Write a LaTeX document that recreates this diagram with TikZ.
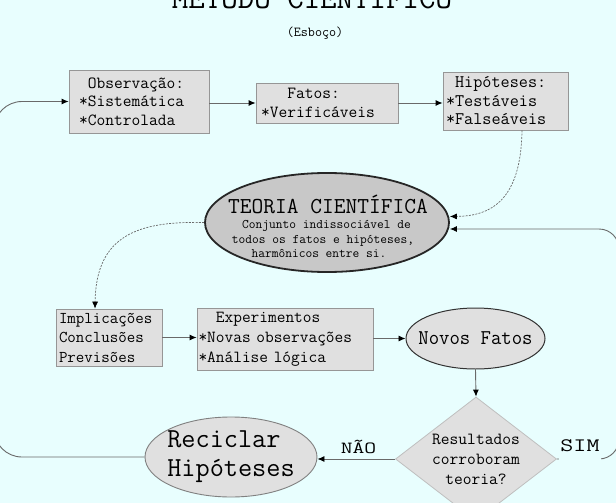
\documentclass[tikz,border=0pt]{standalone}
\usepackage{fontspec}
\usetikzlibrary{shapes.geometric,arrows.meta}
\definecolor{bg}{RGB}{232,254,254}
\definecolor{boxfill}{RGB}{224,224,224}
\definecolor{boxline}{RGB}{150,150,150}
\definecolor{teofill}{RGB}{200,200,200}
\definecolor{connc}{RGB}{105,105,105}
\newcommand\fsz[2]{\ttfamily\fontsize{#1}{#2}\selectfont}
\begin{document}
\begin{tikzpicture}[x=1pt,y=-1pt,
  gbox/.style={draw=boxline, fill=boxfill, line width=0.8pt, rectangle, align=left, inner ysep=0pt},
  conn/.style={draw=connc, line width=0.9pt, -{Latex[length=7pt,width=6pt,color=black]}},
  dconn/.style={conn, dash pattern=on 2pt off 1.3pt, line width=0.7pt},
  txt/.style={anchor=base, inner sep=0pt}
]
\useasboundingbox (0,0) rectangle (616,503);
\fill[bg] (0,0) rectangle (616,503);

% titles
\node[txt, font=\fsz{32}{32}] (title) at (312,9) {MÉTODO CIENTÍFICO};
\node[txt, font=\fsz{13.7}{13.7}] (esb) at (315,37) {(Esboço)};

% top row
\node[gbox, font=\fsz{17}{18.5}, minimum width=140pt, minimum height=63pt, text width=120pt, inner xsep=10pt] (obs) at (139,101.5)
  {\phantom{*}Observação:\\{}*Sistemática\\{}*Controlada};
\node[gbox, font=\fsz{17}{18.5}, minimum width=142pt, minimum height=40pt, text width=132pt, inner xsep=5pt] (fatos) at (327,103)
  {\phantom{***}Fatos:\\{}*Verificáveis};
\node[gbox, font=\fsz{17.7}{18.5}, minimum width=125pt, minimum height=58pt, text width=119pt, inner xsep=3pt] (hip) at (505.5,101)
  {\phantom{*}Hipóteses:\\{}*Testáveis\\{}*Falseáveis};

% theory
\node[ellipse, draw=black!85, line width=1.8pt, fill=teofill, minimum width=244pt, minimum height=99pt, inner sep=0pt] (teoria) at (327,222.5) {};
\node[txt, font=\fsz{22.8}{22.8}] (t1) at (328,213) {TEORIA CIENTÍFICA};
\node[txt, font=\fsz{13.1}{13.1}] (t2) at (326.5,228) {Conjunto indissociável de};
\node[txt, font=\fsz{13.1}{13.1}] (t3) at (323,243) {todos os fatos e hipóteses,};
\node[txt, font=\fsz{13.1}{13.1}] (t4) at (319,257) {harmônicos entre si.};

% middle row
\node[gbox, font=\fsz{16.5}{19.5}, minimum width=106pt, minimum height=57pt, text width=100pt, inner xsep=3pt] (impl) at (109,337.5)
  {Implicações\\Conclusões\\Previsões};
\node[gbox, font=\fsz{16.9}{20}, minimum width=176pt, minimum height=62pt, text width=173pt, inner xsep=1.5pt] (exp) at (285,339)
  {\phantom{**}Experimentos\\{}*Novas observações\\{}*Análise lógica};
\node[ellipse, draw=black!80, line width=1pt, fill=boxfill, minimum width=139pt, minimum height=61pt, inner xsep=-12pt, inner ysep=0pt] (novos) at (475.5,338.5)
  {\scalebox{0.96}[1]{\fsz{21}{21}Novos Fatos}};

% bottom row
\node[diamond, draw=black!25, line width=0.8pt, fill=boxfill, minimum width=161pt, minimum height=124pt, inner sep=0pt, aspect=1.3, align=center, font=\fsz{17}{20}] (dec) at (476,459)
  {Resultados\\corroboram\\teoria?};
\node[ellipse, draw=black!50, line width=0.9pt, fill=boxfill, minimum width=172pt, minimum height=80pt, inner xsep=-30pt, inner ysep=-10pt, align=left, font=\fsz{27.5}{29}] (recic) at (231,457)
  {Reciclar\\Hipóteses};

% helper coordinates
\coordinate (lx) at (-6,0);
\coordinate (rx) at (619,0);
\coordinate (tsim) at ([yshift=-6.5pt]teoria.east);
\coordinate (tdash) at ([yshift=6pt]teoria.east);

% connectors
\draw[conn, rounded corners=28pt] (recic.west) -- (recic.west -| lx) -- (obs.west -| lx) -- (obs.west);
\draw[conn] (obs.east |- fatos.west) -- (fatos.west);
\draw[conn] (fatos.east) -- (fatos.east -| hip.west);
\draw[dconn] ([xshift=16.5pt]hip.south) .. controls +(-1,70) and +(41,-0.5) .. (tdash);
\draw[dconn] (teoria.west) .. controls +(-65,-1.5) and +(1,-74) .. ([xshift=-14pt]impl.north);
\draw[conn] (impl.east) -- (impl.east -| exp.west);
\draw[conn] (exp.east |- novos.west) -- (novos.west);
\draw[conn] (novos.south) -- (dec.north);
\draw[conn] (dec.west) -- (dec.west -| recic.east);
\draw[conn, rounded corners=20pt] (dec.east) -- (dec.east -| rx) -- (rx |- tsim) -- (tsim);

% labels
\node[txt, font=\fsz{17}{17}] (nao) at (358.5,453) {\scalebox{1.35}[1]{NÃO}};
\node[anchor=base, fill=bg, inner xsep=1pt, inner ysep=9pt, font=\fsz{19}{19}] (sim) at (580,451) {\scalebox{1.33}[1]{SIM}};
\end{tikzpicture}
\end{document}
